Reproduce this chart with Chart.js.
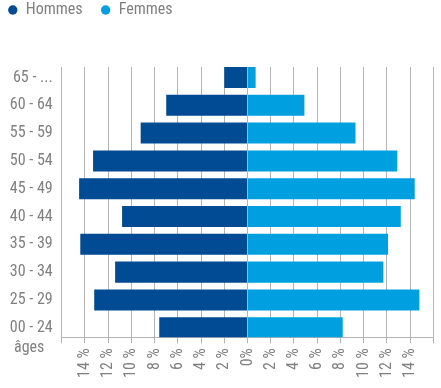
<!DOCTYPE html>
<html>
<head>
<meta charset="utf-8">
<script src="https://cdn.jsdelivr.net/npm/chart.js@4/dist/chart.umd.min.js"></script>
<style>
  html, body { margin: 0; padding: 0; background: #ffffff; }
  #wrap { width: 441px; height: 388px; position: relative; }
</style>
</head>
<body>
<div id="wrap"><canvas id="c" width="441" height="388"></canvas></div>
<script>
// ---- data ----
const categories = ['65 - ...', '60 - 64', '55 - 59', '50 - 54', '45 - 49', '40 - 44', '35 - 39', '30 - 34', '25 - 29', '00 - 24'];
const hommes = [2.0, 7.0, 9.2, 13.3, 14.5, 10.8, 14.4, 11.4, 13.2, 7.6];
const femmes = [0.7, 4.9, 9.3, 12.9, 14.4, 13.2, 12.1, 11.7, 14.8, 8.2];
const tickValues = [-16, -14, -12, -10, -8, -6, -4, -2, 0, 2, 4, 6, 8, 10, 12, 14, 16];
const tickLabels = ['', '14 %', '12 %', '10 %', '8 %', '6 %', '4 %', '2 %', '0%', '2 %', '4 %', '6 %', '8 %', '10 %', '12 %', '14 %', ''];
const seriesNames = ['Hommes', 'Femmes'];
const axisTitle = 'âges';

const FONT = "'Roboto Condensed', 'Liberation Sans Narrow', 'Roboto', sans-serif";
const GREY = '#808080';
const GRID = '#b4b4b4';
const DARK = '#004b93';
const LIGHT = '#00a0e0';

const legendFit = {
  id: 'legendFit',
  beforeInit(chart) {
    const orig = chart.legend.fit;
    chart.legend.fit = function () {
      orig.call(this);
      this.height = 83;
    };
  }
};

const agesLabel = {
  id: 'agesLabel',
  afterDraw(chart) {
    const ctx = chart.ctx;
    ctx.save();
    ctx.font = '16px ' + FONT;
    ctx.fillStyle = GREY;
    ctx.textAlign = 'left';
    ctx.textBaseline = 'alphabetic';
    ctx.fillText(axisTitle, 14, chart.chartArea.bottom + 14.5);
    ctx.restore();
  }
};

new Chart(document.getElementById('c'), {
  type: 'bar',
  data: {
    datasets: [
      {
        label: seriesNames[0],
        data: hommes.map((v, i) => ({ x: -v, y: i })),
        backgroundColor: DARK,
        borderWidth: 0,
        categoryPercentage: 0.756,
        barPercentage: 1
      },
      {
        label: seriesNames[1],
        data: femmes.map((v, i) => ({ x: v, y: i })),
        backgroundColor: LIGHT,
        borderWidth: 0,
        categoryPercentage: 0.756,
        barPercentage: 1
      }
    ]
  },
  options: {
    indexAxis: 'y',
    responsive: false,
    animation: false,
    layout: { padding: { top: -16, left: -10.2, right: 7.7, bottom: 0 } },
    plugins: {
      tooltip: { enabled: false },
      legend: {
        position: 'top',
        align: 'start',
        labels: {
          usePointStyle: true,
          pointStyle: 'circle',
          boxWidth: 10,
          boxHeight: 6.6,
          padding: 18,
          color: GREY,
          font: { family: FONT, size: 16 }
        }
      }
    },
    scales: {
      x: {
        type: 'linear',
        stacked: true,
        min: -16,
        max: 16,
        afterBuildTicks(scale) { scale.ticks = tickValues.map(v => ({ value: v })); },
        ticks: {
          autoSkip: false,
          minRotation: 90,
          maxRotation: 90,
          padding: 5,
          color: GREY,
          font: { family: FONT, size: 16 },
          callback(value) {
            const idx = tickValues.indexOf(value);
            return idx >= 0 ? tickLabels[idx] : '';
          }
        },
        grid: { color: GRID, lineWidth: 1, tickLength: 6, drawTicks: true },
        border: { display: true, color: GRID, width: 1 },
        afterFit(scale) {
          scale.height = 50.7;
          scale.paddingLeft = 0;
          scale.paddingRight = 0;
        }
      },
      y: {
        type: 'linear',
        reverse: true,
        stacked: true,
        offset: false,
        min: -0.378,
        max: 9.344,
        ticks: {
          stepSize: 1,
          includeBounds: false,
          padding: 9,
          color: GREY,
          font: { family: FONT, size: 16 },
          callback(value) {
            return Number.isInteger(value) ? categories[value] : '';
          }
        },
        grid: { display: false, drawTicks: false },
        border: { display: true, color: GRID, width: 1 },
        afterFit(scale) {
          scale.width = 71.9;
          scale.paddingTop = 0;
          scale.paddingBottom = 0;
        }
      }
    }
  },
  plugins: [legendFit, agesLabel]
});
</script>
</body>
</html>
